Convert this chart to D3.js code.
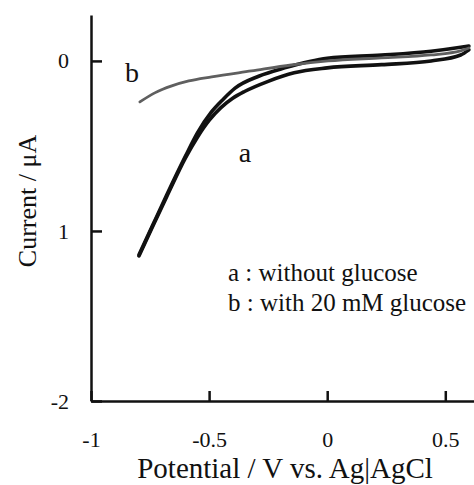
<!DOCTYPE html>
<html>
<head>
<meta charset="utf-8">
<script src="https://cdn.jsdelivr.net/npm/d3@7"></script>
<style>
  body { margin: 0; background: #fff; }
</style>
</head>
<body>
<div id="chart"></div>
<script>
// Eixo x (potencial) e eixo y (corrente)
const xTicks = [-1, -0.5, 0, 0.5];
const xTickLabels = ['-1', '-0.5', '0', '0.5'];
const yTicks = [0, -1, -2];
const yTickLabels = ['0', '1', '-2'];

// Curva a : sem glicose (ramo inferior e ramo superior do voltamograma)
const aLowerX = [-0.797, -0.74, -0.68, -0.60, -0.55, -0.50, -0.45, -0.40, -0.35, -0.25, -0.14, 0.0, 0.23, 0.44, 0.565, 0.6];
const aLowerY = [-1.147, -0.976, -0.80, -0.57, -0.45, -0.35, -0.275, -0.22, -0.18, -0.12, -0.07, -0.041, -0.022, 0.0, 0.035, 0.065];
const aUpperX = [-0.797, -0.74, -0.68, -0.60, -0.55, -0.49, -0.44, -0.39, -0.29, -0.18, 0.0, 0.23, 0.44, 0.565, 0.6];
const aUpperY = [-1.14, -0.97, -0.79, -0.56, -0.425, -0.30, -0.225, -0.16, -0.09, -0.041, 0.016, 0.034, 0.057, 0.08, 0.088];

// Curva b : com 20 mM de glicose
const bX = [-0.793, -0.73, -0.658, -0.586, -0.489, -0.321, -0.152, 0.004, 0.228, 0.439, 0.565, 0.6];
const bY = [-0.241, -0.188, -0.147, -0.118, -0.094, -0.059, -0.024, 0.0, 0.018, 0.035, 0.059, 0.076];

const legendLines = ['a : without glucose', 'b : with 20 mM glucose'];

const width = 474, height = 485;
const serif = '"Liberation Serif", "Times New Roman", serif';

let svg = d3.select('#chart')
  .append('svg')
  .attr('width', width)
  .attr('height', height)
  .style('display', 'block');

// Escalas
const x = d3.scaleLinear().domain([-1, 0.63]).range([91, 476]);
const y = d3.scaleLinear().domain([-2, 0.27]).range([401, 15]);

const zip = (xs, ys) => xs.map((v, i) => [v, ys[i]]);

// Eixo x
const xAxis = svg.append('g')
  .attr('transform', `translate(0,${y(-2)})`)
  .call(d3.axisBottom(x)
    .tickValues(xTicks)
    .tickFormat((d, i) => xTickLabels[i])
    .tickSizeInner(-10)
    .tickSizeOuter(0)
    .tickPadding(30));

// Eixo y
const yAxis = svg.append('g')
  .attr('transform', `translate(${x(-1)},0)`)
  .call(d3.axisLeft(y)
    .tickValues(yTicks)
    .tickFormat((d, i) => yTickLabels[i])
    .tickSizeInner(-11)
    .tickSizeOuter(0)
    .tickPadding(22));

[xAxis, yAxis].forEach(g => {
  g.attr('font-family', serif).attr('font-size', 22);
  g.select('.domain').attr('stroke', '#111').attr('stroke-width', 2.5);
  g.selectAll('.tick line').attr('stroke', '#111').attr('stroke-width', 2.5);
  g.selectAll('.tick text').attr('fill', '#111');
});

// Titulos dos eixos
svg.append('text')
  .attr('x', 285).attr('y', 478)
  .attr('text-anchor', 'middle')
  .attr('font-family', serif)
  .attr('font-size', 29)
  .attr('fill', '#111')
  .text('Potential / V vs. Ag|AgCl');

svg.append('text')
  .attr('transform', 'translate(36,201) rotate(-90)')
  .attr('text-anchor', 'middle')
  .attr('font-family', serif)
  .attr('font-size', 26)
  .attr('fill', '#111')
  .text('Current / μA');

// Linhas
const line = d3.line()
  .x(d => x(d[0]))
  .y(d => y(d[1]))
  .curve(d3.curveMonotoneX);

[zip(aLowerX, aLowerY), zip(aUpperX, aUpperY)].forEach(pts => {
  svg.append('path')
    .datum(pts)
    .attr('d', line)
    .attr('fill', 'none')
    .attr('stroke', '#111')
    .attr('stroke-width', 3.6)
    .attr('stroke-linecap', 'round');
});

svg.append('path')
  .datum(zip(bX, bY))
  .attr('d', line)
  .attr('fill', 'none')
  .attr('stroke', '#5f5f5f')
  .attr('stroke-width', 2.8)
  .attr('stroke-linecap', 'round');

// Rotulos das curvas
svg.append('text')
  .attr('x', 132).attr('y', 82)
  .attr('text-anchor', 'middle')
  .attr('font-family', serif)
  .attr('font-size', 28)
  .attr('fill', '#111')
  .text('b');

svg.append('text')
  .attr('x', 245).attr('y', 162)
  .attr('text-anchor', 'middle')
  .attr('font-family', serif)
  .attr('font-size', 28)
  .attr('fill', '#111')
  .text('a');

// Legenda
svg.selectAll('.legend')
  .data(legendLines)
  .enter()
  .append('text')
  .attr('class', 'legend')
  .attr('x', 228)
  .attr('y', (d, i) => 281 + i * 30)
  .attr('font-family', serif)
  .attr('font-size', 25)
  .attr('fill', '#111')
  .text(d => d);
</script>
</body>
</html>
